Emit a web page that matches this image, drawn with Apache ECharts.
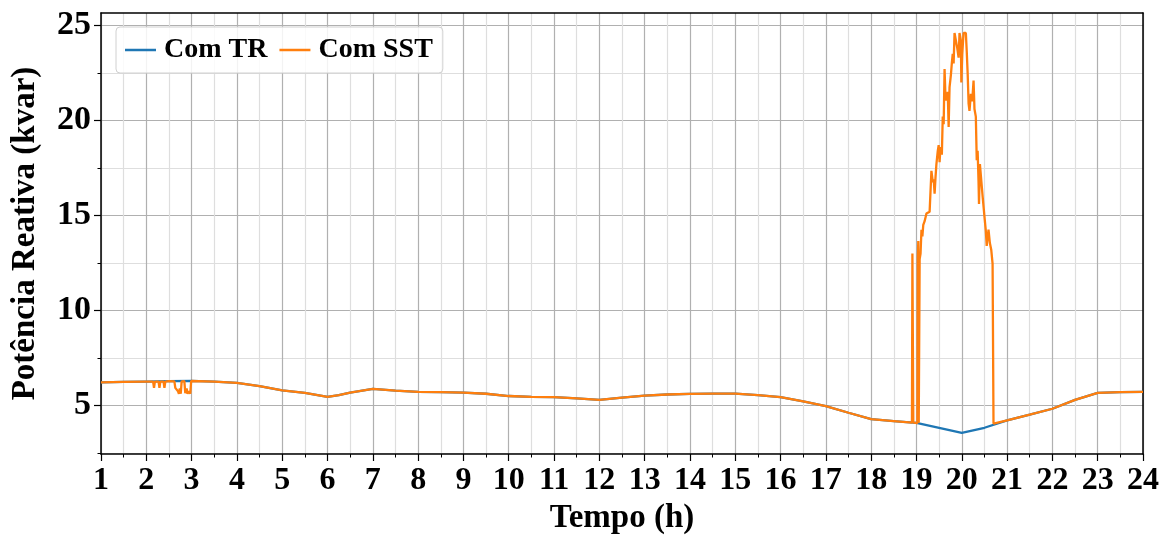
<!DOCTYPE html>
<html>
<head>
<meta charset="utf-8">
<script src="https://cdn.jsdelivr.net/npm/echarts@6/dist/echarts.min.js"></script>
<style>html,body{margin:0;padding:0;background:#fff}#c{width:1163px;height:540px}</style>
</head>
<body>
<div id="c"></div>
<script>
// Baseline reactive power (both cases), hours
var baseTime = [1.0,1.5,2.0,2.5,3.0,3.5,4.0,4.5,5.0,5.5,6.0,6.25,6.5,7.0,7.5,8.0,8.5,9.0,9.5,10.0,10.5,11.0,11.5,12.0,12.5,13.0,13.5,14.0,14.5,15.0,15.5,16.0,16.5,17.0,17.5,18.0,18.5,19.0,19.5,20.0,20.5,21.0,21.5,22.0,22.5,23.0,23.5,24.0];
var baseValue = [6.22,6.24,6.26,6.28,6.30,6.26,6.19,6.02,5.80,5.66,5.46,5.55,5.68,5.88,5.78,5.72,5.70,5.68,5.62,5.50,5.46,5.44,5.38,5.30,5.42,5.52,5.58,5.61,5.63,5.63,5.55,5.44,5.22,4.97,4.62,4.28,4.18,4.09,3.83,3.56,3.83,4.22,4.52,4.83,5.30,5.67,5.70,5.72];

// SST: small dips around 2-3 h
var dipTime = [2.15,2.17,2.19,2.27,2.29,2.31,2.38,2.40,2.42,2.62,2.64,2.68,2.70,2.72,2.74,2.76,2.78,2.84,2.86,2.89,2.91,2.94,2.97,2.99];
var dipValue = [6.26,5.93,6.26,6.26,5.93,6.26,6.26,5.93,6.26,6.27,5.93,5.93,5.75,5.62,5.90,5.62,6.27,6.28,5.65,5.90,5.62,5.75,5.62,6.29];

// SST: evening peak
var peakTime = [18.90,18.91,18.93,19.02,19.03,19.04,19.05,19.07,19.09,19.11,19.13,19.15,19.18,19.20,19.22,19.25,19.29,19.31,19.33,19.36,19.38,19.40,19.42,19.44,19.47,19.49,19.51,19.53,19.56,19.58,19.60,19.62,19.64,19.66,19.69,19.71,19.73,19.76,19.78,19.80,19.82,19.84,19.88,19.90,19.93,19.95,19.98,19.99,20.01,20.04,20.09,20.11,20.13,20.15,20.17,20.20,20.23,20.26,20.28,20.31,20.33,20.35,20.37,20.38,20.40,20.43,20.46,20.50,20.53,20.55,20.59,20.62,20.65,20.68,20.70];
var peakValue = [4.10,13.0,4.10,4.08,12.8,13.65,4.10,12.7,13.0,14.25,13.9,14.5,14.7,14.6,15.1,15.0,15.2,15.3,17.35,16.75,16.9,16.15,17.0,17.7,18.4,18.7,17.8,18.6,18.2,20.2,19.8,22.7,21.2,21.05,21.5,19.65,21.75,22.4,23.0,23.5,23.0,24.6,24.6,23.8,23.3,24.6,24.2,22.0,23.5,24.6,24.6,23.6,22.45,20.9,20.5,21.4,21.0,22.1,20.6,20.2,17.9,18.4,16.75,15.6,17.7,16.85,16.0,14.95,14.2,13.4,14.25,13.55,13.2,12.45,4.05];

var xTicks = [1,2,3,4,5,6,7,8,9,10,11,12,13,14,15,16,17,18,19,20,21,22,23,24];
var yMajor = [5,10,15,20,25];
var yMinor = [2.5,7.5,12.5,17.5,22.5];

function pairs(t, v) { return t.map(function (x, i) { return [x, v[i]]; }); }
var trData = pairs(baseTime, baseValue);
var sstData = pairs(baseTime, baseValue).filter(function (p) { return !(p[0] > 18.9 && p[0] < 20.7); })
  .concat(pairs(dipTime, dipValue)).concat(pairs(peakTime, peakValue))
  .sort(function (a, b) { return a[0] - b[0]; });

var FONT = 'Liberation Serif';
var major = '#b0b0b0', minor = '#dedede';
var chart = echarts.init(document.getElementById('c'), null, {renderer: 'canvas'});
chart.setOption({
  animation: false,
  backgroundColor: '#fff',
  grid: {left: 101, right: 20, top: 13, bottom: 86, containLabel: false},
  legend: {
    left: 116, top: 27, orient: 'horizontal', icon: 'rect',
    padding: [9, 10, 9, 9], itemGap: 12, itemWidth: 31, itemHeight: 2.5,
    backgroundColor: 'rgba(255,255,255,0.85)', borderColor: '#d0d0d0', borderWidth: 1, borderRadius: 4,
    textStyle: {fontFamily: FONT, fontWeight: 'bold', fontSize: 28, color: '#000', padding: [0, 0, 0, 3]},
    data: ['Com TR', 'Com SST']
  },
  xAxis: [{
    type: 'value', min: 1, max: 24, interval: 1,
    name: 'Tempo (h)', nameLocation: 'middle', nameGap: 46,
    nameTextStyle: {fontFamily: FONT, fontWeight: 'bold', fontSize: 33, color: '#000'},
    axisLine: {show: true, lineStyle: {color: '#000', width: 1.5}},
    axisTick: {show: true, inside: false, length: 7, lineStyle: {color: '#000', width: 1.2}},
    minorTick: {show: true, splitNumber: 2, length: 3.5, lineStyle: {color: '#000', width: 1}},
    axisLabel: {fontFamily: FONT, fontWeight: 'bold', fontSize: 32, color: '#000', margin: 11,
      customValues: xTicks},
    splitLine: {show: true, lineStyle: {color: major, width: 1.2}},
    minorSplitLine: {show: true, lineStyle: {color: minor, width: 1.2}}
  }, {
    type: 'value', position: 'top', min: 1, max: 24, interval: 1,
    axisLine: {show: true, onZero: false, lineStyle: {color: '#000', width: 1.5}},
    axisTick: {show: false}, axisLabel: {show: false}, splitLine: {show: false}
  }],
  yAxis: [{
    type: 'value', min: 2.45, max: 25.65, position: 'left',
    name: 'Potência Reativa (kvar)', nameLocation: 'middle', nameGap: 59, nameRotate: 90,
    nameTextStyle: {fontFamily: FONT, fontWeight: 'bold', fontSize: 33, color: '#000'},
    axisLine: {show: true, onZero: false, lineStyle: {color: '#000', width: 1.5}},
    axisTick: {show: true, inside: false, length: 7, customValues: yMajor, lineStyle: {color: '#000', width: 1.2}},
    axisLabel: {fontFamily: FONT, fontWeight: 'bold', fontSize: 34, color: '#000', margin: 10, customValues: yMajor},
    splitLine: {show: true, lineStyle: {color: major, width: 1.2}}
  }, {
    type: 'value', min: 2.45, max: 25.65, position: 'left',
    axisLine: {show: false},
    axisTick: {show: true, inside: false, length: 3.5, customValues: yMinor, lineStyle: {color: '#000', width: 1}},
    axisLabel: {show: false, customValues: yMinor},
    splitLine: {show: true, lineStyle: {color: minor, width: 1.2}}
  }, {
    type: 'value', min: 2.45, max: 25.65, position: 'right',
    axisLine: {show: true, onZero: false, lineStyle: {color: '#000', width: 1.5}},
    axisTick: {show: false}, axisLabel: {show: false}, splitLine: {show: false}
  }],
  series: [{
    name: 'Com TR', type: 'line', xAxisIndex: 0, yAxisIndex: 0, data: trData,
    symbol: 'none', color: '#1f77b4', lineStyle: {width: 2.3, color: '#1f77b4'}, z: 3
  }, {
    name: 'Com SST', type: 'line', xAxisIndex: 0, yAxisIndex: 0, data: sstData,
    symbol: 'none', color: '#ff7f0e', lineStyle: {width: 2.3, color: '#ff7f0e'}, z: 4
  }]
});
</script>
</body>
</html>
